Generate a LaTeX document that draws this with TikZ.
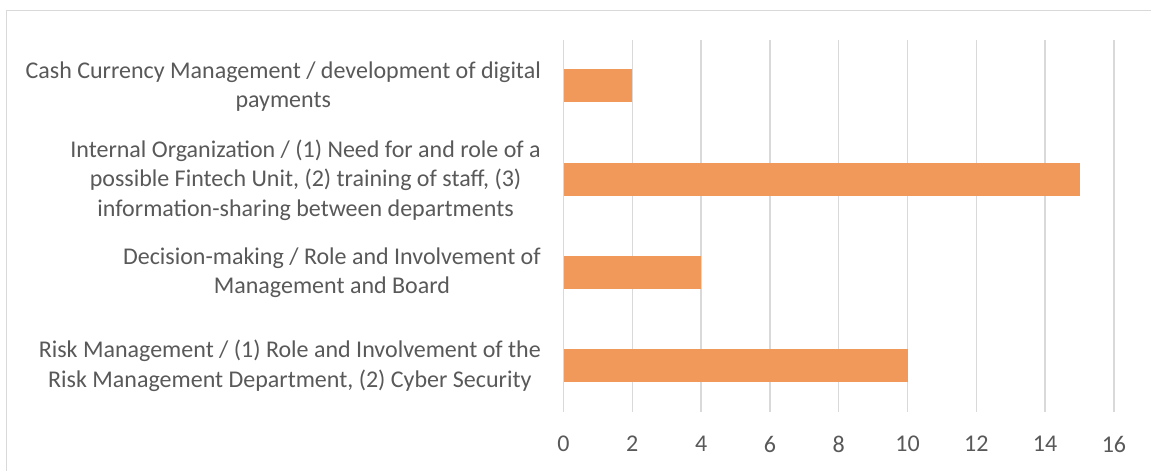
\documentclass[tikz,border=0pt]{standalone}
\usepackage{fontspec}
\setmainfont{Carlito}
\definecolor{barorange}{RGB}{240,153,91}
\definecolor{gridgray}{RGB}{217,217,217}
\definecolor{textgray}{RGB}{89,89,89}
\tikzset{
  catlabel/.style={anchor=east, align=center, text=textgray, inner sep=0pt, font=\fontsize{24}{29.5}\selectfont},
  ticklabel/.style={anchor=center, text=textgray, inner sep=0pt, font=\fontsize{24}{29.5}\selectfont},
  gridline/.style={draw=gridgray, line width=1.5pt},
  bar/.style={fill=barorange},
  frameline/.style={draw=gridgray, line width=1.2pt}
}
\begin{document}
\begin{tikzpicture}[x=1pt,y=-1pt]
\useasboundingbox (0,0) rectangle (1151,471);
\fill[white] (0,0) rectangle (1151,471);
\draw[frameline] (1151,10.5) -- (6.5,10.5) -- (6.5,471);
% gridlines and tick labels
\foreach \v in {0,2,...,16}{
  \draw[gridline] ({563.5+34.4*\v},39.5) -- ({563.5+34.4*\v},411.7);
  \node[ticklabel] (t\v) at ({563.5+34.4*\v},444) {\v};
}
% bars
\fill[bar] (563.5,69) rectangle ({563.5+34.4*2},102);
\fill[bar] (563.5,163) rectangle ({563.5+34.4*15},196);
\fill[bar] (563.5,256) rectangle ({563.5+34.4*4},289);
\fill[bar] (563.5,349) rectangle ({563.5+34.4*10},382);
% category labels
\node[catlabel] (c1) at (541,86.5) {Cash Currency Management / development of digital\\payments};
\node[catlabel] (c2) at (541,180) {Internal Organization / (1) Need for and role of a\\possible Fintech Unit, (2) training of staff, (3)\\information-sharing between departments};
\node[catlabel] (c3) at (541,272.5) {Decision-making / Role and Involvement of\\Management and Board};
\node[catlabel] (c4) at (541,366) {Risk Management / (1) Role and Involvement of the\\Risk Management Department, (2) Cyber Security};
\end{tikzpicture}
\end{document}
